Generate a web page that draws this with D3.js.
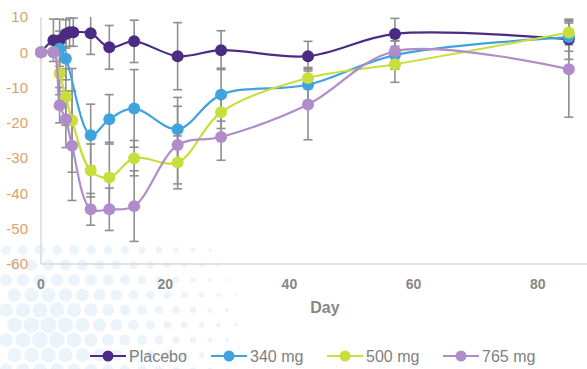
<!DOCTYPE html>
<html>
<head>
<meta charset="utf-8">
<script src="https://cdn.jsdelivr.net/npm/d3@7"></script>
<style>
  body { margin: 0; background: #fff; }
  svg { display: block; font-family: "Liberation Sans", Arial, sans-serif; }
</style>
</head>
<body>
<div id="chart"></div>
<script>
// Data
const seriesNames = ["Placebo", "340 mg", "500 mg", "765 mg"];
const seriesColors = ["#4b2c82", "#41a3de", "#c8de3c", "#b18ccb"];

const placeboDays = [0, 2, 3, 4, 4.6, 5.2, 8, 11, 15, 22, 29, 43, 57, 85];
const placeboValues = [0, 3.4, 3.4, 5.2, 5.7, 5.7, 5.4, 1.4, 3.1, -1.1, 0.6, -1.1, 5.2, 3.7];
const placeboErr = [0, 6, 6, 4, 4, 4, 6, 6.2, 6, 9.5, 5.5, 4.2, 4.4, 5.7];

const dose340Days = [0, 2, 3, 4, 8, 11, 15, 22, 29, 43, 57, 85];
const dose340Values = [0, 0, 1, -1.8, -23.5, -19, -15.9, -21.8, -12, -9.2, -0.8, 4.3];
const dose340Err = [0, 0, 5, 6, 8.8, 7, 11, 9, 7.5, 4.6, 4, 4];

const dose500Days = [0, 2, 3, 4, 5, 8, 11, 15, 22, 29, 43, 57, 85];
const dose500Values = [0, 0, -6, -12.7, -19.3, -33.5, -35.5, -30, -31.2, -17, -7.3, -3.4, 5.6];
const dose500Err = [0, 0, 6, 8, 14.7, 7.5, 10, 5, 7.5, 4.6, 3, 5.1, 3.5];

const dose765Days = [0, 2, 3, 4, 5, 8, 11, 15, 22, 29, 43, 57, 85];
const dose765Values = [0, 0, -15, -19, -26.5, -44.5, -44.5, -43.6, -26.3, -24, -14.8, 0.3, -4.8];
const dose765Err = [0, 0, 5, 8, 15.5, 4.5, 6, 10, 11, 6.6, 10, 3, 13.6];

const xTicks = [0, 20, 40, 60, 80];
const yTicks = [10, 0, -10, -20, -30, -40, -50, -60];

const allDays = [placeboDays, dose340Days, dose500Days, dose765Days];
const allValues = [placeboValues, dose340Values, dose500Values, dose765Values];
const allErr = [placeboErr, dose340Err, dose500Err, dose765Err];

const series = seriesNames.map((name, i) => ({
  name: name,
  color: seriesColors[i],
  points: allDays[i].map((d, j) => ({ day: d, value: allValues[i][j], err: allErr[i][j] }))
}));

const width = 587;
const height = 369;
const plotLeft = 41, plotTop = 17, plotBottom = 264;

const x = d3.scaleLinear().domain([0, 90]).range([plotLeft, plotLeft + 90 * 6.21]);
const y = d3.scaleLinear().domain([-60, 10]).range([plotBottom, plotTop]);

const svg = d3.select("#chart").append("svg")
    .attr("width", width)
    .attr("height", height);

// faint halftone dots in the lower left corner (background decoration)
const deco = svg.append("g").attr("fill", "#ebf3fb");
for (let row = 0; row < 9; row++) {
  for (let col = 0; col < 20; col++) {
    const cx = 6 + col * 17 + (row % 2 ? 8.5 : 0);
    const cy = 250 + row * 15;
    const dist = Math.hypot(cx - 45, (cy - 330) * 1.2);
    const r = 8.5 - dist / 28;
    if (r > 1.5) deco.append("circle").attr("cx", cx).attr("cy", cy).attr("r", r);
  }
}

svg.append("defs").append("clipPath").attr("id", "plot")
  .append("rect").attr("x", 0).attr("y", plotTop).attr("width", width).attr("height", plotBottom - plotTop + 10);

// plot frame
svg.append("line").attr("x1", plotLeft).attr("x2", plotLeft).attr("y1", plotTop).attr("y2", plotBottom)
    .attr("stroke", "#d9d9d9").attr("stroke-width", 1.5);
svg.append("line").attr("x1", plotLeft).attr("x2", width).attr("y1", plotBottom).attr("y2", plotBottom)
    .attr("stroke", "#d9d9d9").attr("stroke-width", 1.5);

// y tick labels
svg.append("g").selectAll("text")
  .data(yTicks)
  .join("text")
    .attr("x", 28)
    .attr("y", d => y(d))
    .attr("dy", "0.35em")
    .attr("text-anchor", "end")
    .attr("fill", "#d9a16c")
    .attr("font-size", 15)
    .text(d => d);

// x tick labels
svg.append("g").selectAll("text")
  .data(xTicks)
  .join("text")
    .attr("x", d => x(d))
    .attr("y", 289)
    .attr("text-anchor", "middle")
    .attr("fill", "#878787")
    .attr("font-size", 14)
    .attr("font-weight", "bold")
    .text(d => d);

svg.append("text")
    .attr("x", 325)
    .attr("y", 313)
    .attr("text-anchor", "middle")
    .attr("fill", "#878787")
    .attr("font-size", 16)
    .attr("font-weight", "bold")
    .text("Day");

const plot = svg.append("g").attr("clip-path", "url(#plot)");

// error bars
const errG = plot.append("g").attr("stroke", "#8f8f8f").attr("stroke-width", 1.6);
series.forEach(s => {
  s.points.filter(p => p.err > 0).forEach(p => {
    const px = x(p.day);
    errG.append("line").attr("x1", px).attr("x2", px)
        .attr("y1", y(p.value + p.err)).attr("y2", y(p.value - p.err));
    [p.value + p.err, p.value - p.err].forEach(v => {
      errG.append("line").attr("x1", px - 4.5).attr("x2", px + 4.5)
          .attr("y1", y(v)).attr("y2", y(v));
    });
  });
});

const line = d3.line()
    .x(d => x(d.day))
    .y(d => y(d.value))
    .curve(d3.curveCatmullRom.alpha(0.5));

series.forEach(s => {
  const g = plot.append("g");
  g.append("path")
      .attr("d", line(s.points))
      .attr("fill", "none")
      .attr("stroke", s.color)
      .attr("stroke-width", 2.2);
  g.selectAll("circle")
    .data(s.points)
    .join("circle")
      .attr("cx", d => x(d.day))
      .attr("cy", d => y(d.value))
      .attr("r", 6)
      .attr("fill", s.color);
});

// legend
const legendX = [90, 211, 327, 443];
const legend = svg.append("g").selectAll("g")
  .data(series)
  .join("g")
    .attr("transform", (d, i) => `translate(${legendX[i]},356)`);

legend.append("line")
    .attr("x1", 0).attr("x2", 36)
    .attr("stroke", d => d.color).attr("stroke-width", 2.2);
legend.append("circle")
    .attr("cx", 18).attr("r", 5.5)
    .attr("fill", d => d.color);
legend.append("text")
    .attr("x", 39)
    .attr("dy", "0.35em")
    .attr("fill", "#7f7f7f")
    .attr("font-size", 16)
    .text(d => d.name);
</script>
</body>
</html>
